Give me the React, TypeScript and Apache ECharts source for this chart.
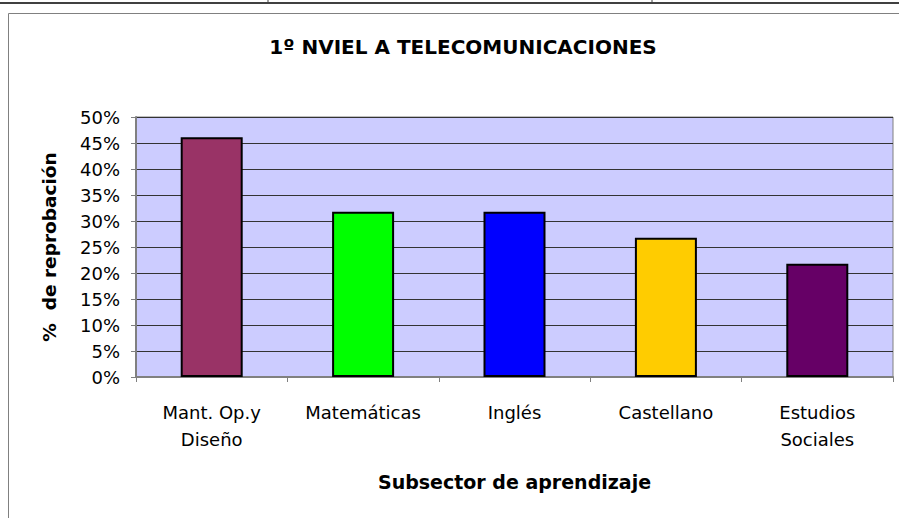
import React, { useEffect, useRef } from "react";
import * as echarts from "echarts";

const categories = ["Mant. Op.y\nDiseño", "Matemáticas", "Inglés", "Castellano", "Estudios\nSociales"];
const values = [46.1, 31.8, 31.8, 26.8, 21.8];
const barColors = ["#993366", "#00FF00", "#0000FF", "#FFCC00", "#660066"];
const titleText = "1º NVIEL A TELECOMUNICACIONES";
const yAxisTitle = "%  de reprobación";
const xAxisTitle = "Subsector de aprendizaje";

export default function App() {
  const ref = useRef<HTMLDivElement>(null);
  useEffect(() => {
    if (!ref.current) return;
    const chart = echarts.init(ref.current, null, { renderer: "svg" });
    const font = "'DejaVu Sans', sans-serif";
    chart.setOption({
      animation: false,
      backgroundColor: "#ffffff",
      title: {
        text: titleText,
        left: 458,
        top: 32,
        textAlign: "center",
        textStyle: { fontFamily: font, fontSize: 20, fontWeight: "bold", color: "#000" },
      },
      graphic: [
        { type: "line", shape: { x1: 0, y1: 3, x2: 899, y2: 3 }, style: { stroke: "#404040", lineWidth: 2 } },
        { type: "line", shape: { x1: 268, y1: 0, x2: 268, y2: 3 }, style: { stroke: "#404040", lineWidth: 1 } },
        { type: "line", shape: { x1: 652, y1: 0, x2: 652, y2: 3 }, style: { stroke: "#404040", lineWidth: 1 } },
        { type: "line", shape: { x1: 8.5, y1: 13.5, x2: 899, y2: 13.5 }, style: { stroke: "#808080", lineWidth: 1 } },
        { type: "line", shape: { x1: 8.5, y1: 13.5, x2: 8.5, y2: 518 }, style: { stroke: "#808080", lineWidth: 1 } },
      ],
      grid: {
        left: 136,
        right: 6,
        top: 117,
        bottom: 141,
        show: true,
        backgroundColor: "#CCCCFF",
        borderColor: "#808080",
        borderWidth: 1,
      },
      xAxis: {
        type: "category",
        data: categories,
        axisLine: { lineStyle: { color: "#808080", width: 2 } },
        axisTick: { show: true, length: 5, lineStyle: { color: "#808080" } },
        axisLabel: { fontFamily: font, fontSize: 18, color: "#000", margin: 22, lineHeight: 27 },
        name: xAxisTitle,
        nameLocation: "middle",
        nameGap: 95,
        nameTextStyle: { fontFamily: font, fontSize: 19, fontWeight: "bold", color: "#000" },
      },
      yAxis: {
        type: "value",
        min: 0,
        max: 50,
        interval: 5,
        axisLine: { show: true, lineStyle: { color: "#808080", width: 2 } },
        axisTick: { show: true, length: 5, lineStyle: { color: "#808080" } },
        axisLabel: { fontFamily: font, fontSize: 18, color: "#000", margin: 16, formatter: "{value}%" },
        splitLine: { show: true, lineStyle: { color: "#333333", width: 1 } },
        name: yAxisTitle,
        nameLocation: "middle",
        nameGap: 77,
        nameTextStyle: { fontFamily: font, fontSize: 18.5, fontWeight: "bold", color: "#000" },
      },
      series: [
        {
          type: "bar",
          barWidth: 62,
          data: values.map((v, i) => ({
            value: v,
            itemStyle: { color: barColors[i], borderColor: "#000", borderWidth: 2 },
          })),
        },
      ],
    });
    return () => chart.dispose();
  }, []);
  return <div ref={ref} style={{ position: "fixed", left: 0, top: 0, width: 899, height: 518 }} />;
}
